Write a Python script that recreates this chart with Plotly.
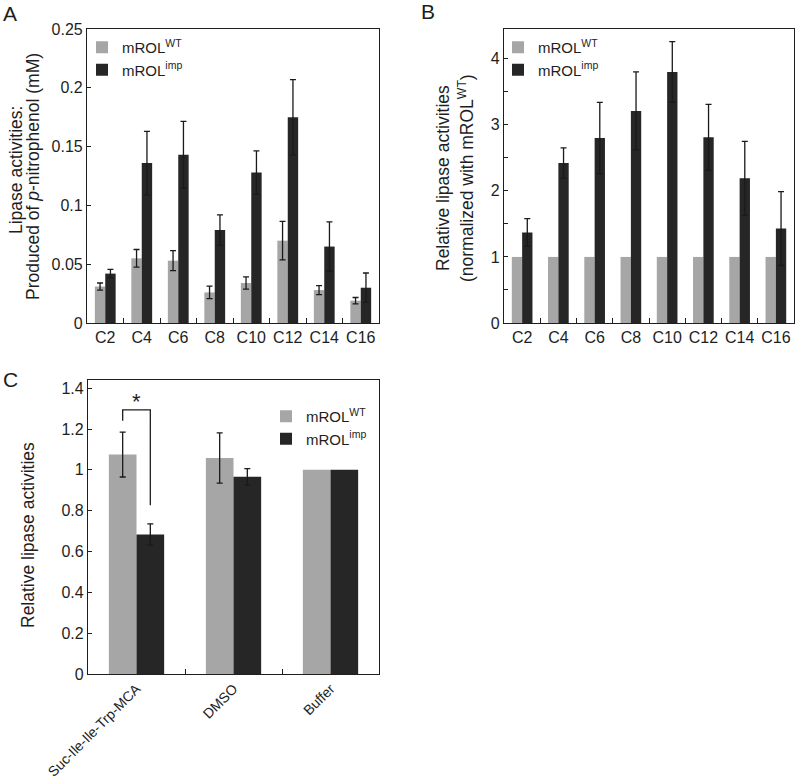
import plotly.graph_objects as go

# ---------------- data ----------------
chain_labels = ["C2", "C4", "C6", "C8", "C10", "C12", "C14", "C16"]

a_wt = [0.031, 0.055, 0.053, 0.026, 0.034, 0.070, 0.028, 0.019]
a_wt_err = [0.003, 0.0075, 0.0085, 0.0053, 0.0052, 0.0164, 0.0038, 0.0027]
a_imp = [0.042, 0.136, 0.143, 0.079, 0.128, 0.175, 0.065, 0.030]
a_imp_err = [0.0036, 0.027, 0.0285, 0.013, 0.0184, 0.032, 0.021, 0.0125]

b_wt = [1, 1, 1, 1, 1, 1, 1, 1]
b_imp = [1.37, 2.42, 2.80, 3.21, 3.80, 2.81, 2.19, 1.43]
b_imp_err = [0.21, 0.23, 0.54, 0.59, 0.46, 0.50, 0.56, 0.56]

inhib_labels = ["Suc-Ile-Ile-Trp-MCA", "DMSO", "Buffer"]
c_wt = [1.075, 1.058, 1.0]
c_imp = [0.683, 0.966, 1.0]
# Buffer is the normalisation reference: it has no error bar
c_wt_err = [0.11, 0.123]
c_imp_err = [0.052, 0.04]

# significance bracket (panel C, first group)
sig_top = 1.294
sig_left_bottom = 1.24
sig_right_bottom = 0.826
sig_star_y = 1.335

# ---------------- style ----------------
W, H = 797, 777
WT_COLOR = "#a6a6a6"
IMP_COLOR = "#262626"
AX_COLOR = "#1e1e1e"
FONT = "Liberation Sans, Arial, sans-serif"
GROUP_WIDTH = 0.57


def px_x(p):
    return p / W


def px_y(p):
    return 1 - p / H


fig = go.Figure()

err_style = dict(type="data", color="#1a1a1a", thickness=1.3, width=3)

# Panel A
fig.add_trace(go.Bar(x=chain_labels, y=a_wt, name="mROL<sup>WT</sup>", marker_color=WT_COLOR,
                     error_y=dict(array=a_wt_err, **err_style), xaxis="x", yaxis="y",
                     legend="legend", legendgroup="a1"))
fig.add_trace(go.Bar(x=chain_labels, y=a_imp, name="mROL<sup>imp</sup>", marker_color=IMP_COLOR,
                     error_y=dict(array=a_imp_err, **err_style), xaxis="x", yaxis="y",
                     legend="legend", legendgroup="a2"))
# Panel B
fig.add_trace(go.Bar(x=chain_labels, y=b_wt, name="mROL<sup>WT</sup>", marker_color=WT_COLOR,
                     xaxis="x2", yaxis="y2", legend="legend2", legendgroup="b1"))
fig.add_trace(go.Bar(x=chain_labels, y=b_imp, name="mROL<sup>imp</sup>", marker_color=IMP_COLOR,
                     error_y=dict(array=b_imp_err, **err_style), xaxis="x2", yaxis="y2",
                     legend="legend2", legendgroup="b2"))
# Panel C
fig.add_trace(go.Bar(x=inhib_labels, y=c_wt, name="mROL<sup>WT</sup>", marker_color=WT_COLOR,
                     error_y=dict(array=c_wt_err, **err_style), xaxis="x3", yaxis="y3",
                     legend="legend3", legendgroup="c1"))
fig.add_trace(go.Bar(x=inhib_labels, y=c_imp, name="mROL<sup>imp</sup>", marker_color=IMP_COLOR,
                     error_y=dict(array=c_imp_err, **err_style), xaxis="x3", yaxis="y3",
                     legend="legend3", legendgroup="c2"))

for t in fig.data:
    t.update(marker_line_width=0, width=GROUP_WIDTH / 2)

tick_font = dict(family=FONT, size=16, color=AX_COLOR)
common_x = dict(type="category", showline=True, linecolor=AX_COLOR, linewidth=1.2, mirror=True,
                ticks="inside", ticklen=5, tickcolor=AX_COLOR, tickson="boundaries",
                showgrid=False, zeroline=False, fixedrange=True, automargin=False)
common_y = dict(showline=True, linecolor=AX_COLOR, linewidth=1.2, mirror=True,
                ticks="inside", ticklen=4, tickcolor=AX_COLOR, tickfont=tick_font,
                showgrid=False, zeroline=False, fixedrange=True, automargin=False)

topA, botA = 29, 323
topC, botC = 380, 674

layout = dict(
    template="none",
    width=W, height=H, margin=dict(l=0, r=0, t=0, b=0, pad=0, autoexpand=False),
    paper_bgcolor="white", plot_bgcolor="white",
    barmode="group", bargap=1 - GROUP_WIDTH, bargroupgap=0,
    font=dict(family=FONT, color=AX_COLOR),
    xaxis=dict(domain=[px_x(87), px_x(379)], anchor="y", tickangle=0, tickfont=tick_font, **common_x),
    yaxis=dict(domain=[px_y(botA), px_y(topA)], anchor="x", range=[0, 0.25], dtick=0.05, **common_y),
    xaxis2=dict(domain=[px_x(504), px_x(794)], anchor="y2", tickangle=0, tickfont=tick_font, **common_x),
    yaxis2=dict(domain=[px_y(botA), px_y(topA)], anchor="x2", range=[0, 4.45], dtick=1,
                minor=dict(dtick=0.5, ticks="inside", ticklen=4, tickcolor=AX_COLOR), **common_y),
    xaxis3=dict(domain=[px_x(88), px_x(379)], anchor="y3", tickangle=-45,
                tickfont=dict(family=FONT, size=14, color=AX_COLOR), **common_x),
    yaxis3=dict(domain=[px_y(botC), px_y(topC)], anchor="x3", range=[0, 1.44], dtick=0.2, **common_y),
)

legend_common = dict(bgcolor="rgba(0,0,0,0)", font=dict(family=FONT, size=15, color=AX_COLOR),
                     traceorder="grouped", tracegroupgap=0, itemwidth=30, borderwidth=0,
                     xref="paper", yref="paper", xanchor="left", yanchor="top")
layout["legend"] = dict(x=px_x(82), y=px_y(31), **legend_common)
layout["legend2"] = dict(x=px_x(498), y=px_y(31), **legend_common)
layout["legend3"] = dict(x=px_x(266), y=px_y(400), **legend_common)

fig.update_layout(**layout)

# axis titles and panel letters
title_font = dict(family=FONT, size=17.5, color=AX_COLOR)
annos = [
    dict(text="Lipase activities:", x=px_x(16), y=px_y(170), textangle=-90),
    dict(text="Produced of <i>p</i>-nitrophenol (mM)", x=px_x(33), y=px_y(177), textangle=-90),
    dict(text="Relative lipase activities", x=px_x(443), y=px_y(178), textangle=-90),
    dict(text="(normalized with mROL<sup>WT</sup>)", x=px_x(466), y=px_y(178), textangle=-90),
    dict(text="Relative lipase activities", x=px_x(28), y=px_y(535), textangle=-90),
]
for a in annos:
    fig.add_annotation(xref="paper", yref="paper", xanchor="center", yanchor="middle",
                       showarrow=False, font=title_font, **a)

for letter, lx, ly in [("A", 10, 13), ("B", 428, 12), ("C", 10, 379)]:
    fig.add_annotation(text=letter, x=px_x(lx), y=px_y(ly), xref="paper", yref="paper",
                       xanchor="center", yanchor="middle", showarrow=False,
                       font=dict(family=FONT, size=21, color=AX_COLOR))

# significance bracket in panel C
off = GROUP_WIDTH / 4
fig.add_shape(type="path", xref="x3", yref="y3",
              path=f"M {-off},{sig_left_bottom} L {-off},{sig_top} L {off},{sig_top} L {off},{sig_right_bottom}",
              line=dict(color=AX_COLOR, width=1.3))
fig.add_annotation(text="*", x=0, y=sig_star_y, xref="x3", yref="y3", showarrow=False,
                   font=dict(family=FONT, size=22, color=AX_COLOR))

fig.write_html("out.html", config={"displayModeBar": False},
               post_script="document.body.style.margin='0';")
